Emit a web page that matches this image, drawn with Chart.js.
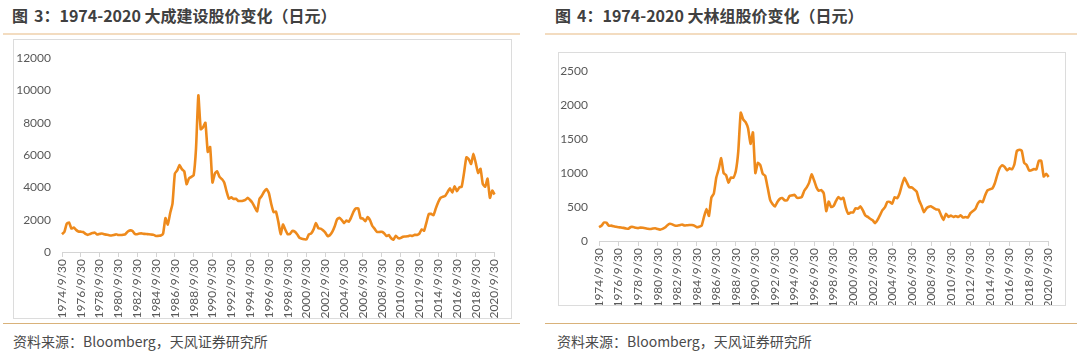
<!DOCTYPE html>
<html>
<head>
<meta charset="utf-8">
<script src="https://cdn.jsdelivr.net/npm/chart.js@4/dist/chart.umd.min.js"></script>
<style>
  html, body { margin: 0; padding: 0; background: #ffffff; }
  body { width: 1080px; height: 356px; position: relative; overflow: hidden; font-family: "Noto Sans CJK SC", "Noto Sans", sans-serif; }
  .title { position: absolute; top: 4px; font-size: 16px; font-weight: bold; color: #404040; line-height: 22px; white-space: nowrap; }
  .title .n { margin-left: 6px; }
  .rule-top { position: absolute; top: 33px; height: 2px; background: #f3dcc0; }
  .rule-bot { position: absolute; top: 323px; height: 1px; background: #d9b27a; }
  .source { position: absolute; top: 331px; font-size: 14px; color: #4a4a4a; line-height: 20px; white-space: nowrap; }
  .box { position: absolute; border: 1px solid #dcdcdc; box-sizing: border-box; }
  .box canvas { position: absolute; left: 0; top: 0; }
</style>
</head>
<body>
<div class="title" style="left:12px;">图<span class="n">3</span>：1974-2020 大成建设股价变化（日元）</div>
<div class="rule-top" style="left:3px; width:517px;"></div>
<div class="box" id="box1" style="left:13px; top:39px; width:499px; height:280px;"><canvas id="c1"></canvas></div>
<div class="rule-bot" style="left:3px; width:517px;"></div>
<div class="source" style="left:13px;">资料来源：Bloomberg，天风证券研究所</div>

<div class="title" style="left:555px;">图<span class="n">4</span>：1974-2020 大林组股价变化（日元）</div>
<div class="rule-top" style="left:545px; width:532px;"></div>
<div class="box" id="box2" style="left:558px; top:52px; width:508px; height:254px;"><canvas id="c2"></canvas></div>
<div class="rule-bot" style="left:545px; width:532px;"></div>
<div class="source" style="left:557px;">资料来源：Bloomberg，天风证券研究所</div>

<script>
// Quarter-end dates from 1974/9/30 to 2020/9/30
const startYear = 1974, endYear = 2020;
const quarterEnds = ['3/31', '6/30', '9/30', '12/31'];
const categories = [];
for (let y = startYear; y <= endYear; y++) {
  for (let q = 0; q < 4; q++) {
    if (y === startYear && q < 2) continue;
    if (y === endYear && q > 2) continue;
    categories.push(y + '/' + quarterEnds[q]);
  }
}

// Tick labels shown on the x axis (every two years)
const tickLabels = ['1974/9/30','1976/9/30','1978/9/30','1980/9/30','1982/9/30','1984/9/30',
  '1986/9/30','1988/9/30','1990/9/30','1992/9/30','1994/9/30','1996/9/30','1998/9/30',
  '2000/9/30','2002/9/30','2004/9/30','2006/9/30','2008/9/30','2010/9/30','2012/9/30',
  '2014/9/30','2016/9/30','2018/9/30','2020/9/30'];

// 大成建设 share price (JPY), quarterly
const taiseiPrice = [
  1100,1240,1750,1830,1450,1510,1370,1270,1260,1240,1120,1060,1120,1170,1200,1080,
  1120,1150,1100,1070,1040,1025,1050,1100,1055,1050,1070,1110,1270,1340,1300,1120,
  1100,1140,1150,1120,1110,1100,1080,1060,990,1000,1020,1140,2100,1700,2400,3000,
  4850,5050,5380,5130,5000,4200,4560,4650,4750,6400,9700,7600,7730,8000,6200,6500,
  4300,4850,5000,4650,4520,4300,3750,3300,3380,3280,3300,3160,3160,3180,3230,3350,
  3220,3040,2770,2520,3290,3480,3750,3900,3650,2970,2470,2500,1880,1100,1700,1380,
  1100,1120,1300,1260,1100,880,820,790,780,1090,1150,1400,1800,1480,1450,1350,
  1200,980,1050,1260,1600,2020,2120,1980,1790,1950,1880,2150,2500,2700,2700,2100,
  2070,1900,2160,1970,1610,1430,1240,1240,1250,1160,990,1050,850,770,1010,860,
  860,950,960,970,1020,1000,1060,1060,1140,1400,1320,1820,2340,2360,2280,2700,
  3080,3350,3420,3480,3710,3940,3680,4070,3770,4000,4040,4900,5860,5750,5450,6080,
  5500,4900,5150,4200,4040,4540,3350,3800,3560
];

// 大林组 share price (JPY), quarterly
const obayashiPrice = [
  203,224,272,270,226,226,218,209,203,199,193,185,180,205,206,196,
  190,197,194,188,180,176,183,188,175,168,179,198,232,253,245,228,
  225,233,242,228,232,236,235,226,203,210,225,360,470,370,640,700,
  934,1060,1220,1000,970,860,935,930,1030,1320,1890,1790,1750,1660,1430,1600,
  1000,1150,1120,990,960,790,610,545,509,575,620,632,600,600,665,672,
  680,637,637,648,740,790,860,981,895,790,740,750,700,440,580,500,
  515,590,648,615,636,490,400,420,420,481,477,510,450,375,355,327,
  305,262,310,380,455,495,575,575,550,645,630,700,830,930,860,790,
  790,760,727,600,519,424,480,505,509,483,465,462,380,310,400,355,
  374,355,368,354,377,345,353,348,410,440,470,550,590,571,670,745,
  762,775,850,975,1075,1115,1090,1040,1070,1055,1130,1325,1344,1330,1150,1120,
  1040,1040,1060,1055,1180,1180,950,991,943
];

const taiseiAxis = [0, 2000, 4000, 6000, 8000, 10000, 12000];
const obayashiAxis = [0, 500, 1000, 1500, 2000, 2500];

const lineColor = '#ee8a1c';
const tickFont = { family: 'Lato, "Noto Sans", sans-serif', size: 12 };

function makeChart(id, w, h, values, yTicks, yWidth, xHeight, padTop, padRight) {
  const cv = document.getElementById(id);
  cv.width = w; cv.height = h;
  cv.style.width = w + 'px'; cv.style.height = h + 'px';
  return new Chart(cv, {
    type: 'line',
    data: {
      labels: categories,
      datasets: [{
        data: values,
        borderColor: lineColor,
        borderWidth: 2.6,
        pointRadius: 0,
        tension: 0.15,
        fill: false
      }]
    },
    options: {
      responsive: false,
      animation: false,
      devicePixelRatio: 1,
      layout: { padding: { top: padTop, right: padRight, left: 0, bottom: 0 } },
      plugins: { legend: { display: false }, tooltip: { enabled: false } },
      scales: {
        x: {
          type: 'category',
          offset: false,
          afterBuildTicks: (scale) => {
            scale.ticks = scale.ticks.filter(t => tickLabels.includes(categories[t.value]));
          },
          afterFit: (scale) => { scale.height = xHeight; },
          ticks: {
            autoSkip: false,
            maxRotation: 90,
            minRotation: 90,
            padding: 2,
            color: '#595959',
            font: tickFont
          },
          grid: {
            drawOnChartArea: false,
            drawTicks: true,
            tickLength: 5,
            tickColor: '#d4d4d4'
          },
          border: { display: true, color: '#d4d4d4', width: 1 }
        },
        y: {
          min: yTicks[0],
          max: yTicks[yTicks.length - 1],
          afterBuildTicks: (scale) => { scale.ticks = yTicks.map(v => ({ value: v })); },
          afterFit: (scale) => { scale.width = yWidth; },
          ticks: {
            padding: 11,
            color: '#595959',
            font: tickFont,
            callback: (v) => String(v)
          },
          grid: { display: false, drawTicks: false },
          border: { display: false }
        }
      }
    }
  });
}

makeChart('c1', 497, 278, taiseiPrice, taiseiAxis, 48, 66, 10, 13);
makeChart('c2', 506, 252, obayashiPrice, obayashiAxis, 40, 64, 10, 16);
</script>
</body>
</html>
